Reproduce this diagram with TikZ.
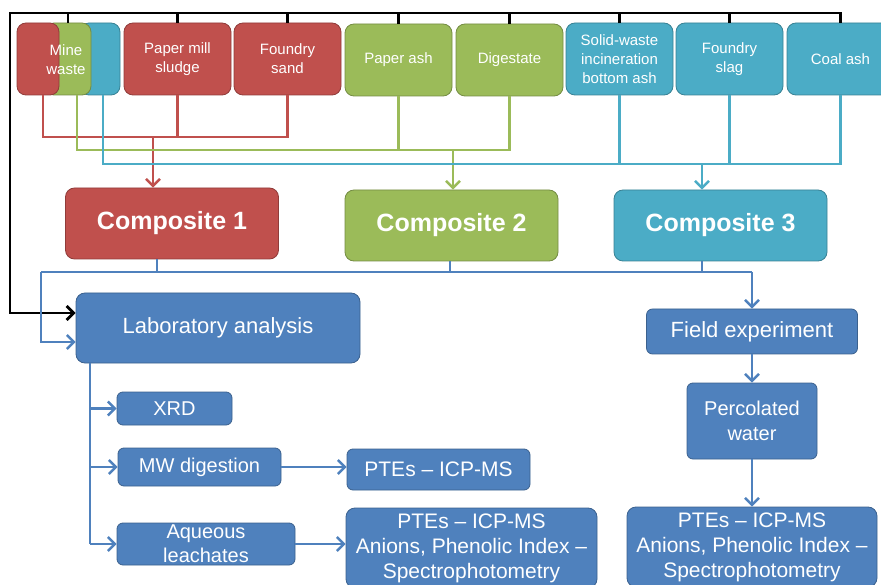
\documentclass[tikz,border=0pt]{standalone}
\usepackage{fontspec}
\setmainfont{Liberation Sans}
\usetikzlibrary{arrows.meta}
\definecolor{matred}{HTML}{C0504D}
\definecolor{matgreen}{HTML}{9BBB59}
\definecolor{mataqua}{HTML}{4BACC6}
\definecolor{matsteel}{HTML}{4F81BD}

\begin{document}
\begin{tikzpicture}[x=1pt, y=-1pt,
    box/.style = {rounded corners=9pt, text=white, align=center, inner sep=2pt, line width=0.8pt},
    redbox/.style = {box, fill=matred, draw=matred!75!black},
    greenbox/.style = {box, fill=matgreen, draw=matgreen!75!black},
    aquabox/.style = {box, fill=mataqua, draw=mataqua!75!black},
    steelbox/.style = {box, fill=matsteel, draw=matsteel!75!black},
    feed/.style = {font=\fontsize{15}{19}\selectfont, minimum width=107pt, minimum height=72pt},
    comp/.style = {font=\fontsize{25}{30}\selectfont\bfseries, minimum width=213pt, minimum height=71pt},
    small/.style = {rounded corners=6pt, font=\fontsize{20}{25}\selectfont},
    tip/.style = {-{Straight Barb[length=7pt,width=14pt]}},
    link/.style = {line width=2.4pt},
    master/.style = {line width=2.8pt, black}]
    \useasboundingbox (0,0) rectangle (881,585);

    % feedstocks
    \node[aquabox, feed, minimum width=40pt] (mineblue) at (100,59) {};
    \node[greenbox, feed, minimum width=46pt] (minegreen) at (68,59) {};
    \node[redbox, feed, minimum width=42pt] (minered) at (38,59) {};
    \node[font=\fontsize{15}{19}\selectfont, text=white, align=center] (minetext) at (66,60) {Mine\\waste};
    \node[redbox, feed] (sludge) at (177.5,59) {Paper mill\\sludge};
    \node[redbox, feed] (foundrysand) at (287.5,59) {Foundry\\sand};
    \node[greenbox, feed] (paperash) at (398.5,60) {Paper ash};
    \node[greenbox, feed] (digestate) at (509.5,60) {Digestate};
    \node[aquabox, feed] (solidwaste) at (619.5,59) {Solid-waste\\incineration\\bottom ash};
    \node[aquabox, feed] (slag) at (729.5,59) {Foundry\\slag};
    \node[aquabox, feed] (coalash) at (840.5,59) {Coal ash};

    % composites
    \node[redbox, comp] (comp1) at (172,223.5) {Composite 1};
    \node[greenbox, comp] (comp2) at (451.5,225.5) {Composite 2};
    \node[aquabox, comp] (comp3) at (720.5,225.5) {Composite 3};

    % analyses
    \node[steelbox, font=\fontsize{22}{26}\selectfont, minimum width=284pt, minimum height=70pt] (lab) at (218,328) {Laboratory analysis};
    \node[steelbox, small, font=\fontsize{22}{26}\selectfont, minimum width=211pt, minimum height=45pt] (field) at (752,331.5) {Field experiment};
    \node[steelbox, small, minimum width=130pt, minimum height=76pt] (perc) at (752,421) {Percolated\\water};
    \node[steelbox, font=\fontsize{21}{25}\selectfont, minimum width=250pt, minimum height=80pt] (ptefield) at (752,547) {PTEs -- ICP-MS\\Anions, Phenolic Index --\\Spectrophotometry};
    \node[steelbox, small, minimum width=115pt, minimum height=33pt] (xrd) at (174.5,408.5) {XRD};
    \node[steelbox, small, minimum width=163pt, minimum height=38pt] (mw) at (199.5,467) {MW digestion};
    \node[steelbox, small, inner ysep=0pt, font=\fontsize{20}{24}\selectfont, minimum width=178pt, minimum height=42pt] (aq) at (206,544) {Aqueous\\leachates};
    \node[steelbox, small, font=\fontsize{21}{25}\selectfont, minimum width=183pt, minimum height=41pt] (ptemw) at (438.5,469.5) {PTEs -- ICP-MS};
    \node[steelbox, font=\fontsize{21}{25}\selectfont, minimum width=251pt, minimum height=80pt] (pteaq) at (471.5,548) {PTEs -- ICP-MS\\Anions, Phenolic Index --\\Spectrophotometry};

    % junctions
    \coordinate (redjoin) at (153,137);
    \coordinate (greenjoin) at (453,150);
    \coordinate (aquajoin) at (702,164);
    \coordinate (busL) at (41,272);
    \coordinate (busR) at (752,272);
    \coordinate (corner) at (10,13);

    % black frame line
    \draw[master, tip] (coalash.north) |- (corner) |- ([yshift=15pt]lab.west);
    \foreach \n in {minegreen, sludge, foundrysand, paperash, digestate, solidwaste, slag}
        \draw[master] ([xshift=\ifx\n minegreen 9pt\else 0pt\fi]\n.north) -- ++(0,-10);

    % red
    \draw[link, matred] ([xshift=5pt]minered.south) |- (redjoin) -| (foundrysand.south);
    \draw[link, matred] (sludge.south) -- (sludge.south |- redjoin);
    \draw[link, matred, tip] (redjoin) -- (redjoin |- comp1.north);
    % green
    \draw[link, matgreen] ([xshift=9pt]minegreen.south) |- (greenjoin) -| (digestate.south);
    \draw[link, matgreen] (paperash.south) -- (paperash.south |- greenjoin);
    \draw[link, matgreen, tip] (greenjoin) -- (greenjoin |- comp2.north);
    % aqua
    \draw[link, mataqua] ([xshift=3pt]mineblue.south) |- (aquajoin) -| (coalash.south);
    \draw[link, mataqua] (solidwaste.south) -- (solidwaste.south |- aquajoin);
    \draw[link, mataqua] (slag.south) -- (slag.south |- aquajoin);
    \draw[link, mataqua, tip] (aquajoin) -- (aquajoin |- comp3.north);

    % composites to analyses
    \draw[link, matsteel] (busL) -- (busR);
    \draw[link, matsteel] ([xshift=-15pt]comp1.south) -- ([xshift=-15pt]comp1.south |- busL);
    \draw[link, matsteel] ([xshift=-1.5pt]comp2.south) -- ([xshift=-1.5pt]comp2.south |- busL);
    \draw[link, matsteel] ([xshift=-18.5pt]comp3.south) -- ([xshift=-18.5pt]comp3.south |- busL);
    \draw[link, matsteel, tip] (busL) |- ([yshift=-14pt]lab.west);
    \draw[link, matsteel, tip] (busR) -- (field.north);
    \draw[link, matsteel, tip] (field.south) -- (perc.north);
    \draw[link, matsteel, tip] (perc.south) -- (ptefield.north);

    % laboratory branches
    \draw[link, matsteel] ([xshift=-128pt]lab.south) -- ([xshift=-128pt]lab.south |- aq.west);
    \draw[link, matsteel, tip] ([xshift=-128pt]lab.south |- xrd.west) -- (xrd.west);
    \draw[link, matsteel, tip] ([xshift=-128pt]lab.south |- mw.west) -- (mw.west);
    \draw[link, matsteel, tip] ([xshift=-128pt]lab.south |- aq.west) -- (aq.west);
    \draw[link, matsteel, tip] (mw.east) -- (mw.east -| ptemw.west);
    \draw[link, matsteel, tip] (aq.east) -- (aq.east -| pteaq.west);
\end{tikzpicture}
\end{document}
